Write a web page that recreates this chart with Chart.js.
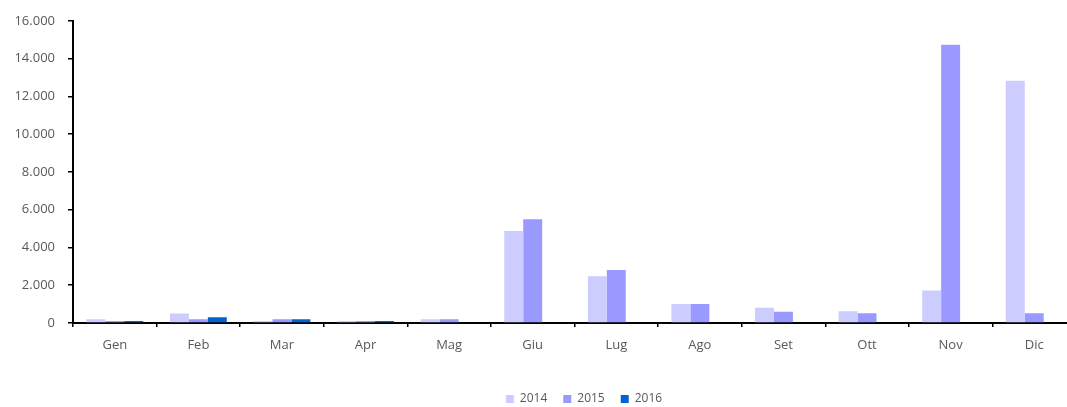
<!DOCTYPE html>
<html>
<head>
<meta charset="utf-8">
<script src="https://cdn.jsdelivr.net/npm/chart.js@4.4.1/dist/chart.umd.min.js"></script>
<style>
  html, body { margin: 0; padding: 0; background: #fff; overflow: hidden; }
  #wrap { width: 1100px; height: 415px; }
</style>
</head>
<body>
<div id="wrap"><canvas id="chart" width="1100" height="415"></canvas></div>
<script>
// months (Italian) and monthly values per year
const months = ['Gen', 'Feb', 'Mar', 'Apr', 'Mag', 'Giu', 'Lug', 'Ago', 'Set', 'Ott', 'Nov', 'Dic'];
const values2014 = [200, 500, 100, 100, 200, 4870, 2480, 1000, 810, 620, 1720, 12830];
const values2015 = [100, 200, 200, 100, 200, 5490, 2800, 1000, 600, 510, 14730, 510];
const values2016 = [100, 300, 200, 100, null, null, null, null, null, null, null, null];
const yTicks = [0, 2000, 4000, 6000, 8000, 10000, 12000, 14000, 16000];

const labelColor = '#595959';

function formatThousands(v) {
    return String(v).replace(/\B(?=(\d{3})+(?!\d))/g, '.');
}

// nudge the legend so it sits where the original one does
const legendShift = {
    id: 'legendShift',
    afterLayout(chart) {
        if (!chart.legend) return;
        chart.legend.left += 46;
        chart.legend.right += 46;
    }
};

const ctx = document.getElementById('chart');

new Chart(ctx, {
    type: 'bar',
    data: {
        labels: months,
        datasets: [
            { label: '2014', data: values2014, backgroundColor: '#CCCCFF' },
            { label: '2015', data: values2015, backgroundColor: '#9999FF' },
            { label: '2016', data: values2016, backgroundColor: '#0066CC' }
        ]
    },
    options: {
        responsive: false,
        animation: false,
        devicePixelRatio: 1,
        layout: { padding: { top: 12, left: 0, right: 24, bottom: 0 } },
        datasets: {
            bar: { categoryPercentage: 0.68, barPercentage: 1.0 }
        },
        plugins: {
            tooltip: { enabled: false },
            legend: {
                position: 'bottom',
                labels: {
                    boxWidth: 8,
                    boxHeight: 8,
                    padding: 16,
                    color: labelColor,
                    font: { family: 'Open Sans', size: 12 }
                }
            }
        },
        scales: {
            x: {
                grid: {
                    display: true,
                    drawOnChartArea: false,
                    drawTicks: true,
                    tickLength: 4,
                    color: '#000',
                    lineWidth: 1.5
                },
                border: { display: true, color: '#000', width: 2 },
                ticks: {
                    color: labelColor,
                    padding: 10,
                    font: { family: 'Open Sans', size: 13 }
                },
                afterFit(scale) { scale.height = 54; }
            },
            y: {
                min: 0,
                max: 16000,
                afterBuildTicks(scale) {
                    scale.ticks = yTicks.map(v => ({ value: v }));
                },
                grid: {
                    display: true,
                    drawOnChartArea: false,
                    drawTicks: true,
                    tickLength: 5,
                    color: '#000',
                    lineWidth: 1.5
                },
                border: { display: true, color: '#000', width: 2 },
                ticks: {
                    color: labelColor,
                    padding: 13,
                    font: { family: 'Open Sans', size: 13 },
                    callback: (v) => formatThousands(v)
                },
                afterFit(scale) { scale.width = 73; }
            }
        }
    },
    plugins: [legendShift]
});
</script>
</body>
</html>
